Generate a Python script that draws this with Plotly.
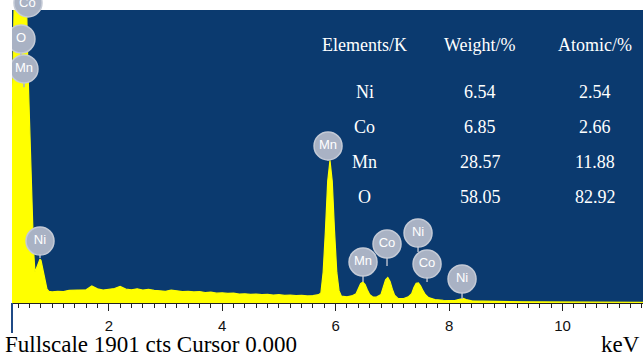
import plotly.graph_objects as go

# ---- spectrum (keV, counts) ----
energy_kev = [
    0.293, 0.31, 0.36, 0.44, 0.50, 0.540, 0.575, 0.610, 0.646, 0.672, 0.698, 0.734, 0.769,
    0.787, 0.805, 0.840, 0.875, 0.910, 0.945,
    1.0, 1.1, 1.2, 1.3, 1.4, 1.5, 1.6, 1.7, 1.8, 1.9, 2.0, 2.1, 2.2, 2.3, 2.4, 2.5,
    2.6, 2.7, 2.8, 2.9, 3.0, 3.1, 3.2, 3.3, 3.4, 3.5, 3.6, 3.7, 3.8, 3.9, 4.0,
    4.1, 4.2, 4.3, 4.4, 4.5, 4.6, 4.7, 4.8, 4.9, 5.0, 5.1, 5.2, 5.3, 5.4, 5.5, 5.6, 5.7,
    5.74, 5.78, 5.82, 5.86, 5.90, 5.94, 5.98, 6.02, 6.06, 6.10, 6.2, 6.3,
    6.36, 6.40, 6.44, 6.48, 6.52, 6.56, 6.60, 6.65, 6.72,
    6.80, 6.84, 6.88, 6.92, 6.96, 7.00, 7.04, 7.10, 7.2, 7.28,
    7.34, 7.38, 7.42, 7.46, 7.50, 7.54, 7.58, 7.64,
    7.75, 7.9, 8.0, 8.1, 8.2, 8.25, 8.3, 8.4, 8.6, 8.8, 9.0, 9.3, 9.6, 10.0, 10.5, 11.0, 11.42,
]
counts = [
    1200, 2500, 3600, 4000, 3600, 2100, 1500, 1050, 600, 350, 200, 240, 280,
    285, 275, 210, 130, 90, 75,
    72, 76, 74, 82, 84, 88, 86, 110, 92, 84, 88, 94, 108, 90, 86, 92,
    84, 88, 82, 80, 76, 84, 78, 74, 76, 72, 74, 68, 70, 64, 66,
    62, 64, 58, 60, 56, 58, 54, 56, 52, 54, 50, 52, 48, 50, 46, 48, 54,
    65, 200, 470, 790, 925, 790, 470, 200, 80, 45, 40, 48,
    60, 90, 125, 136, 120, 85, 55, 40, 38,
    55, 100, 150, 165, 140, 90, 50, 30, 28, 40,
    60, 100, 128, 130, 110, 80, 55, 35,
    22, 18, 16, 16, 26, 30, 22, 14, 12, 10, 9, 8, 7, 6, 5, 5, 4,
]

# ---- peak labels ----
label_text = ["Co", "O", "Mn", "Ni", "Mn", "Mn", "Co", "Ni", "Co", "Ni"]
label_kev = [0.575, 0.451, 0.504, 0.787, 5.866, 6.483, 6.906, 7.453, 7.612, 8.229]
label_cts = [1947, 1713, 1519, 402, 1019, 266, 383, 454, 253, 156]
stem_end_cts = [1850, 1600, 1400, 292, 925, 136, 240, 331, 136, 26]

# ---- composition table ----
table_header = ["Elements/K", "Weight/%", "Atomic/%"]
elements = ["Ni", "Co", "Mn", "O"]
weight_pct = ["6.54", "6.85", "28.57", "58.05"]
atomic_pct = ["2.54", "2.66", "11.88", "82.92"]

fullscale = 1901
x_range = [0.293, 11.42]

BG = "#0b3a6f"
YEL = "#ffff00"
LBL = "#a9b2c4"
LBL_EDGE = "#c4cad6"

fig = go.Figure()
fig.add_trace(go.Scatter(
    x=energy_kev, y=counts, mode="lines", fill="tozeroy",
    line=dict(color=YEL, width=1.2), fillcolor=YEL, hoverinfo="skip", showlegend=False,
))

sx, sy = [], []
for k, c, e in zip(label_kev[1:], label_cts[1:], stem_end_cts[1:]):
    sx += [k, k, None]
    sy += [c, e, None]
fig.add_trace(go.Scatter(x=sx, y=sy, mode="lines", line=dict(color=LBL, width=1.6),
                         hoverinfo="skip", showlegend=False))

marker = dict(size=28, color=LBL, line=dict(color=LBL_EDGE, width=1.5))
tfont = dict(family="Liberation Sans, Arial", size=13, color="white")
fig.add_trace(go.Scatter(
    x=label_kev[1:], y=label_cts[1:], text=label_text[1:], mode="markers+text",
    textposition="middle center", marker=marker, textfont=tfont,
    cliponaxis=True, hoverinfo="skip", showlegend=False,
))

# the top-left "Co" label sits above the plot area: draw it as a paper shape + text
co_px = (label_kev[0] - x_range[0]) / (x_range[1] - x_range[0])
co_py = label_cts[0] / fullscale
shapes = [
    dict(type="circle", xref="paper", yref="paper", xsizemode="pixel", ysizemode="pixel",
         xanchor=co_px, yanchor=co_py, x0=-14, x1=14, y0=-14, y1=14,
         fillcolor=LBL, line=dict(color=LBL_EDGE, width=1.5), layer="above"),
    dict(type="line", xref="paper", yref="paper", x0=0, x1=0, y0=0, y1=-0.102,
         line=dict(color="#1f4a86", width=2)),
]

# table annotations (paper coords)
col_x = [0.559, 0.742, 0.924]
head_y = 0.881
row_y = [0.720, 0.601, 0.481, 0.362]
serif = dict(family="Liberation Serif, Times New Roman", size=18, color="white")
ann = []
for cx, h in zip(col_x, table_header):
    ann.append(dict(x=cx, y=head_y, text=h))
for i in range(len(elements)):
    for cx, v in zip(col_x, [elements[i], weight_pct[i], atomic_pct[i]]):
        ann.append(dict(x=cx, y=row_y[i], text=v))
annotations = [dict(xref="paper", yref="paper", showarrow=False, font=serif,
                    xanchor="center", yanchor="middle", **a) for a in ann]
annotations.append(dict(xref="paper", yref="paper", x=co_px, y=co_py, showarrow=False,
                        xanchor="center", yanchor="middle", text=label_text[0], font=tfont))
annotations.append(dict(xref="paper", yref="paper", x=-0.0143, y=-0.143, xanchor="left",
                        yanchor="middle", showarrow=False,
                        text=f"Fullscale {fullscale} cts Cursor 0.000",
                        font=dict(family="Liberation Serif, Times New Roman", size=23, color="black")))
annotations.append(dict(xref="paper", yref="paper", x=0.998, y=-0.143, xanchor="right",
                        yanchor="middle", showarrow=False, text="keV",
                        font=dict(family="Liberation Serif, Times New Roman", size=23, color="black")))

fig.update_layout(
    width=643, height=354,
    margin=dict(l=12, r=0, t=10, b=51),
    paper_bgcolor="white", plot_bgcolor=BG,
    annotations=annotations,
    shapes=shapes,
    xaxis=dict(range=x_range, tick0=0, dtick=2, ticks="outside", ticklen=7,
               tickcolor="#222", tickwidth=1.2, showgrid=False, zeroline=False,
               showline=True, linecolor="#222", linewidth=1, ticklabelstandoff=2,
               tickfont=dict(family="Liberation Sans, Arial", size=15, color="#111"),
               minor=dict(dtick=0.2, tick0=0, ticks="outside", ticklen=4,
                          tickcolor="#222", tickwidth=1, showgrid=False)),
    yaxis=dict(range=[0, fullscale], visible=False, showgrid=False, zeroline=False),
)

fig.write_html("out.html", config={"displayModeBar": False},
               post_script="document.body.style.margin='0';document.body.style.overflow='hidden';")
